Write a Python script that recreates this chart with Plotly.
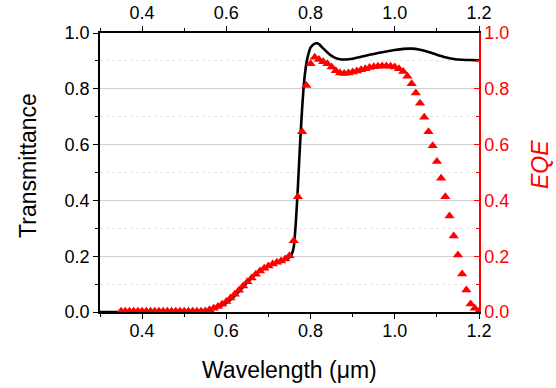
import numpy as np
import plotly.graph_objects as go

# Transmittance (black line)
wl_T = [0.30, 0.35, 0.40, 0.45, 0.50, 0.54, 0.56, 0.58, 0.60, 0.62, 0.64, 0.66, 0.68,
        0.70, 0.72, 0.74, 0.75, 0.755, 0.76, 0.765, 0.77, 0.775, 0.78, 0.785, 0.79,
        0.795, 0.80, 0.81, 0.815, 0.82, 0.83, 0.84, 0.85, 0.86, 0.87, 0.88, 0.89,
        0.90, 0.92, 0.94, 0.96, 0.98, 1.00, 1.02, 1.04, 1.06, 1.08, 1.10, 1.12,
        1.14, 1.16, 1.18, 1.20]
trans = [0.0, 0.0, 0.0, 0.0, 0.0, 0.002, 0.008, 0.018, 0.032, 0.058, 0.09, 0.122, 0.148,
         0.164, 0.177, 0.188, 0.196, 0.206, 0.232, 0.32, 0.45, 0.60, 0.73, 0.83, 0.89,
         0.925, 0.948, 0.962, 0.963, 0.960, 0.945, 0.930, 0.918, 0.910, 0.906, 0.905, 0.906,
         0.908, 0.915, 0.922, 0.928, 0.934, 0.939, 0.943, 0.944, 0.940, 0.932, 0.922, 0.913,
         0.907, 0.904, 0.903, 0.902]

# EQE (red triangles), 10 nm steps from 0.35 to 1.20 um
wl_E = np.round(np.arange(0.35, 1.2001, 0.01), 2)
eqe = [0.003, 0.003, 0.003, 0.003, 0.003, 0.003, 0.003, 0.003, 0.003, 0.003,
       0.003, 0.003, 0.003, 0.003, 0.003, 0.003, 0.003, 0.003, 0.003, 0.003,
       0.004, 0.008, 0.013, 0.020, 0.028, 0.038, 0.050, 0.064, 0.078, 0.093,
       0.108, 0.122, 0.135, 0.147, 0.157, 0.165, 0.172, 0.178, 0.183, 0.190,
       0.202, 0.255, 0.413, 0.646, 0.812, 0.890, 0.913, 0.905, 0.897, 0.890,
       0.878, 0.865, 0.857, 0.855, 0.857, 0.860, 0.864, 0.868, 0.872, 0.876,
       0.879, 0.881, 0.882, 0.882, 0.881, 0.878, 0.872, 0.862, 0.845, 0.818,
       0.785, 0.748, 0.698, 0.646, 0.596, 0.539, 0.479, 0.413, 0.344, 0.272,
       0.204, 0.136, 0.079, 0.029, 0.013, 0.003]

x_ticks = [0.4, 0.6, 0.8, 1.0, 1.2]
y_ticks = [0.0, 0.2, 0.4, 0.6, 0.8, 1.0]

FONT = "Liberation Sans, Arial, sans-serif"
RED = "#ff0000"

fig = go.Figure()
fig.add_trace(go.Scatter(x=wl_T, y=trans, mode="lines",
                         line=dict(color="black", width=2.6, shape="spline", smoothing=0.6),
                         xaxis="x", yaxis="y", showlegend=False))
fig.add_trace(go.Scatter(x=wl_E, y=eqe, mode="markers",
                         marker=dict(symbol="triangle-up", size=9, color=RED, line=dict(width=0)),
                         xaxis="x2", yaxis="y2", showlegend=False))

common_x = dict(range=[0.3, 1.2], tickvals=x_ticks, ticktext=[f"{v:.1f}" for v in x_ticks],
                showline=True, linecolor="black", linewidth=1.5, ticks="outside",
                ticklen=5, tickwidth=1.3, tickcolor="black", showgrid=False, zeroline=False,
                automargin=False,
                tickfont=dict(family=FONT, size=18, color="black"),
                minor=dict(tickvals=[0.3, 0.5, 0.7, 0.9, 1.1], ticks="outside", ticklen=3,
                           tickwidth=1.2, tickcolor="black", showgrid=False))

fig.update_layout(
    width=556, height=388,
    margin=dict(l=100, r=77, t=33, b=76),
    paper_bgcolor="white", plot_bgcolor="white",
    xaxis=dict(**common_x, side="bottom", anchor="y", ticklabelstandoff=-3),
    xaxis2=dict(**common_x, side="top", overlaying="x", anchor="y"),
    yaxis=dict(range=[0, 1.0], tickvals=y_ticks, ticktext=[f"{v:.1f}" for v in y_ticks],
               showline=True, linecolor="black", linewidth=1.5, ticks="outside",
               ticklen=5, tickwidth=1.3, tickcolor="black", zeroline=False,
               showgrid=True, gridcolor="#cfcfcf", gridwidth=1, automargin=False,
               tickfont=dict(family=FONT, size=18, color="black"),
               minor=dict(dtick=0.1, ticks="outside", ticklen=3, tickwidth=1.2, tickcolor="black",
                          showgrid=True, gridcolor="#e6e6e6", griddash="dot", gridwidth=1)),
    yaxis2=dict(range=[0, 1.0], tickvals=y_ticks, ticktext=[f"{v:.1f}" for v in y_ticks],
                overlaying="y", side="right", anchor="x",
                showline=True, linecolor=RED, linewidth=1.5, ticks="inside",
                ticklen=5, tickwidth=1.3, tickcolor=RED, zeroline=False, showgrid=False,
                automargin=False,
                tickfont=dict(family=FONT, size=18, color=RED),
                minor=dict(dtick=0.1, ticks="inside", ticklen=3, tickwidth=1.2, tickcolor=RED,
                           showgrid=False)),
    annotations=[
        dict(text="Transmittance", xref="paper", yref="paper", x=-0.19, y=0.527,
             textangle=-90, showarrow=False, xanchor="center", yanchor="middle",
             font=dict(family=FONT, size=23, color="black")),
        dict(text="<i>EQE</i>", xref="paper", yref="paper", x=1.161, y=0.527,
             textangle=-90, showarrow=False, xanchor="center", yanchor="middle",
             font=dict(family=FONT, size=23, color=RED)),
        dict(text="Wavelength (\u03bcm)", xref="paper", yref="paper", x=0.4987, y=-0.208,
             showarrow=False, xanchor="center", yanchor="middle",
             font=dict(family=FONT, size=23, color="black")),
    ],
)

# remove the default 8 px body margin so the figure fills the window exactly
fig.write_html("out.html", config={"displayModeBar": False},
               post_script="document.body.style.margin='0px';")
